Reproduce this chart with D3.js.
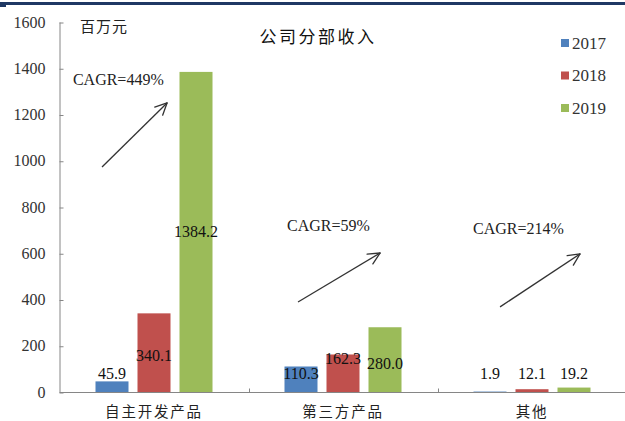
<!DOCTYPE html>
<html>
<head>
<meta charset="utf-8">
<script src="https://cdnjs.cloudflare.com/ajax/libs/d3/7.8.5/d3.min.js"></script>
<style>
  html, body { margin: 0; padding: 0; background: #fff; }
  svg { display: block; }
</style>
</head>
<body>
<script>
// Segment revenue, million yuan
const categories = ["自主开发产品", "第三方产品", "其他"];
const years = ["2017", "2018", "2019"];
const rev2017 = [45.9, 110.3, 1.9];
const rev2018 = [340.1, 162.3, 12.1];
const rev2019 = [1384.2, 280.0, 19.2];
const yTicks = [0, 200, 400, 600, 800, 1000, 1200, 1400, 1600];
const cagrLabels = ["CAGR=449%", "CAGR=59%", "CAGR=214%"];

const series = [rev2017, rev2018, rev2019];
const colors = ["#4f81bd", "#c0504d", "#9bbb59"];

const W = 625, H = 421;
const serif = "'Liberation Serif', 'Times New Roman', serif";
const cjk = "'Noto Sans CJK SC', 'Noto Sans CJK TC', sans-serif";

const svg = d3.select("body").append("svg")
  .attr("width", W).attr("height", H);

// header rule
svg.append("rect").attr("x", 0).attr("y", 2).attr("width", W).attr("height", 3).attr("fill", "#1f3864");
svg.append("rect").attr("x", 0).attr("y", 2).attr("width", 6).attr("height", 5).attr("fill", "#1f3864");

const x = d3.scaleBand().domain(categories).range([59.5, 626.5]);
const xi = d3.scaleBand().domain(years).range([0, x.bandwidth()])
  .paddingInner(9 / 42).paddingOuter(0.857);
const y = d3.scaleLinear().domain([0, 1600]).range([392, 22]);

// y axis
const yAxis = svg.append("g")
  .attr("transform", "translate(59.5,0)")
  .call(d3.axisLeft(y).tickValues(yTicks).tickSizeInner(-4).tickSizeOuter(0).tickPadding(14)
    .tickFormat(d3.format("d")));
yAxis.attr("font-family", null).attr("font-size", null);
yAxis.select(".domain").attr("stroke", "#868686");
yAxis.selectAll(".tick line").attr("stroke", "#868686").attr("transform", "translate(0,0.5)");
yAxis.selectAll(".tick text")
  .style("font-family", serif).style("font-size", "16px").attr("fill", "#333");

// x axis
const xAxisG = svg.append("g").attr("transform", "translate(0,392.5)");
xAxisG.append("line").attr("x1", 59.5).attr("x2", 626.5).attr("y1", 0).attr("y2", 0)
  .attr("stroke", "#868686");
xAxisG.selectAll("line.sep").data(categories.slice(1)).join("line")
  .attr("class", "sep")
  .attr("x1", d => Math.round(x(d)) + 0.5).attr("x2", d => Math.round(x(d)) + 0.5)
  .attr("y1", 0).attr("y2", -4).attr("stroke", "#868686");
xAxisG.selectAll("text").data(categories).join("text")
  .attr("x", d => x(d) + x.bandwidth() / 2)
  .attr("y", 18)
  .attr("text-anchor", "middle")
  .attr("dominant-baseline", "central")
  .style("font-family", cjk).style("font-size", "14.5px").attr("letter-spacing", 1.8)
  .attr("fill", "#222")
  .text(d => d);

// bars
series.forEach((vals, si) => {
  svg.append("g").selectAll("rect").data(vals).join("rect")
    .attr("x", (v, ci) => x(categories[ci]) + xi(years[si]))
    .attr("width", xi.bandwidth())
    .attr("y", v => y(v))
    .attr("height", v => y(0) - y(v))
    .attr("fill", colors[si]);
});

// value labels (vertical placement in value units)
const labelLevel = [
  [82, 82, 82],
  [160, 147, 82],
  [692, 125, 82]
];
series.forEach((vals, si) => {
  svg.append("g").selectAll("text").data(vals).join("text")
    .attr("x", (v, ci) => x(categories[ci]) + xi(years[si]) + xi.bandwidth() / 2)
    .attr("y", (v, ci) => y(labelLevel[si][ci]))
    .attr("text-anchor", "middle")
    .attr("dominant-baseline", "central")
    .style("font-family", serif).style("font-size", "16px").attr("fill", "#111")
    .text(v => v.toFixed(1));
});

// growth arrows and CAGR notes (x as fraction of the band, y in value units)
const arrowLayout = [
  { x0: 0.225, v0: 973, x1: 0.569, v1: 1250, tx: 0.071, tv: 1350 },
  { x0: 0.262, v0: 389, x1: 0.696, v1: 601, tx: 0.204, tv: 721 },
  { x0: 0.331, v0: 368, x1: 0.754, v1: 597, tx: 0.188, tv: 708 }
];
const ann = svg.append("g");
arrowLayout.forEach((a, i) => {
  const bx = x(categories[i]), bw = x.bandwidth();
  const X0 = bx + a.x0 * bw, Y0 = y(a.v0), X1 = bx + a.x1 * bw, Y1 = y(a.v1);
  ann.append("line").attr("x1", X0).attr("y1", Y0).attr("x2", X1).attr("y2", Y1)
    .attr("stroke", "#333").attr("stroke-width", 1.3);
  const ang = Math.atan2(Y1 - Y0, X1 - X0);
  const L = 13, spread = Math.PI / 7;
  [ang + Math.PI - spread, ang + Math.PI + spread].forEach(t => {
    ann.append("line").attr("x1", X1).attr("y1", Y1)
      .attr("x2", X1 + L * Math.cos(t)).attr("y2", Y1 + L * Math.sin(t))
      .attr("stroke", "#333").attr("stroke-width", 1.3).attr("stroke-linecap", "round");
  });
  ann.append("text")
    .attr("x", bx + a.tx * bw).attr("y", y(a.tv))
    .attr("dominant-baseline", "central")
    .style("font-family", serif).style("font-size", "16px").attr("fill", "#222")
    .text(cagrLabels[i]);
});

// unit and title
svg.append("text").attr("x", 80).attr("y", 25).attr("dominant-baseline", "central")
  .style("font-family", cjk).style("font-size", "15px").attr("letter-spacing", 1)
  .attr("fill", "#222").text("百万元");
svg.append("text").attr("x", 318).attr("y", 35).attr("text-anchor", "middle")
  .attr("dominant-baseline", "central")
  .style("font-family", cjk).style("font-size", "17px").attr("letter-spacing", 2.5)
  .attr("fill", "#111").text("公司分部收入");

// legend
const legend = svg.append("g");
years.forEach((yr, i) => {
  const cy = 43 + i * 32.5;
  legend.append("rect").attr("x", 561).attr("y", cy - 4).attr("width", 8).attr("height", 8)
    .attr("fill", colors[i]);
  legend.append("text").attr("x", 572).attr("y", cy).attr("dominant-baseline", "central")
    .style("font-family", serif).style("font-size", "17px").attr("fill", "#333").text(yr);
});
</script>
</body>
</html>
